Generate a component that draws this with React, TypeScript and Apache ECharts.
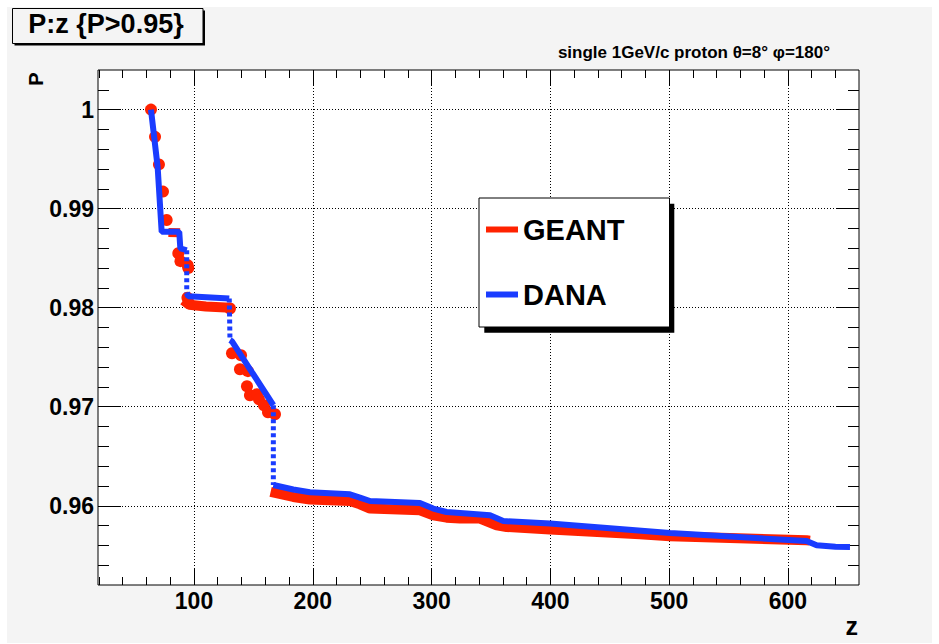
import React, { useEffect, useRef } from 'react';
import * as echarts from 'echarts';

// ---- axis ranges & tick labels ----
const X_MIN = 19.2;
const X_MAX = 659.8;
const Y_MIN = 0.952;
const Y_MAX = 1.004;
const X_MAJOR = [100, 200, 300, 400, 500, 600];
const Y_MAJOR = [0.96, 0.97, 0.98, 0.99, 1.0];

// ---- GEANT (red) ----
const geantBlobs: [number, number][] = [
  [63.8, 1.0], [67.2, 0.99725], [70.5, 0.99447], [73.9, 0.99172], [77.0, 0.98886],
  [86.8, 0.9855], [88.6, 0.9847], [94.6, 0.9843], [95.2, 0.984],
  [94.5, 0.981], [95.5, 0.9805], [130.3, 0.97992],
  [132.0, 0.9754], [139.6, 0.9752], [138.7, 0.97379], [145.4, 0.97359],
  [144.6, 0.97207], [147.1, 0.97116], [153.0, 0.97126], [154.7, 0.97076],
  [158.9, 0.97015], [162.3, 0.96944], [168.2, 0.96924],
];
const geantStep1: [number, number][] = [[78.5, 0.9876], [88.3, 0.98756]];
const geantStep2: [number, number][] = [[91.0, 0.98075], [96.0, 0.9803], [110.0, 0.98012], [131.0, 0.98]];
const geantTail: [number, number][] = [
  [164.5, 0.9614], [183.6, 0.96089], [197.6, 0.96063], [231.3, 0.96049], [239.7, 0.96015],
  [248.2, 0.95972], [290.2, 0.95955], [301.4, 0.95904], [312.6, 0.9588], [323.9, 0.95871],
  [340.7, 0.95871], [354.8, 0.95803], [363.2, 0.95786], [399.7, 0.9576], [475.4, 0.95712],
  [500.7, 0.95692], [615.7, 0.95652], [618.5, 0.95648],
];

// ---- DANA (blue) ----
const danaA: [number, number][] = [
  [63.8, 1.0], [69.4, 0.99422], [72.8, 0.98766], [87.6, 0.98766], [88.5, 0.986], [93.9, 0.9858],
];
const danaDrop1: [number, number][] = [[93.9, 0.9858], [93.9, 0.9815]];
const danaB: [number, number][] = [[93.9, 0.9815], [95.2, 0.98116], [129.7, 0.98093]];
const danaDrop2: [number, number][] = [[129.7, 0.98093], [130.3, 0.97672]];
const danaC: [number, number][] = [[130.3, 0.97672], [132.0, 0.9766], [166.8, 0.97015]];
const danaDrop3: [number, number][] = [[166.8, 0.97015], [166.8, 0.9621]];
const danaTail: [number, number][] = [
  [166.8, 0.9621], [183.6, 0.96164], [197.6, 0.96136], [231.3, 0.96116], [239.7, 0.96083],
  [248.2, 0.96048], [290.2, 0.96028], [301.4, 0.95972], [312.6, 0.95937], [323.9, 0.95928],
  [349.2, 0.95904], [360.4, 0.95846], [399.7, 0.9582], [500.7, 0.95725], [615.7, 0.95644],
  [624.1, 0.95601], [640.0, 0.95586], [652.2, 0.95584],
];

const RED = '#ff2200';
const BLUE = '#1a3cff';
const BG = '#f4f4f4';
const FONT = '"Liberation Sans", Arial, Helvetica, sans-serif';

function minorTicks(lo: number, hi: number, step: number, majors: number[]): number[] {
  const out: number[] = [];
  const n0 = Math.ceil(lo / step - 1e-9);
  const n1 = Math.floor(hi / step + 1e-9);
  for (let i = n0; i <= n1; i++) {
    const v = +(i * step).toFixed(6);
    if (!majors.some((m) => Math.abs(m - v) < 1e-9)) out.push(v);
  }
  return out;
}

const X_MINOR = minorTicks(X_MIN, X_MAX, 20, X_MAJOR);
const Y_MINOR = minorTicks(Y_MIN + 0.001, Y_MAX - 0.001, 0.002, Y_MAJOR);

function xAxisDef(position: 'bottom' | 'top', ticks: number[], len: number, labels: boolean, split: boolean) {
  return {
    type: 'value', gridIndex: 0, min: X_MIN, max: X_MAX, position,
    axisLine: { show: false },
    axisTick: { show: true, inside: true, length: len, customValues: ticks, lineStyle: { color: '#000', width: 1 } },
    axisLabel: labels
      ? { show: true, customValues: ticks, margin: 4, color: '#000', fontSize: 23, fontWeight: 'bold', fontFamily: FONT, formatter: (v: number) => String(v) }
      : { show: false },
    splitLine: split ? { show: true, lineStyle: { color: '#000', width: 1, type: [1, 2] } } : { show: false },
  };
}
function yAxisDef(position: 'left' | 'right', ticks: number[], len: number, labels: boolean, split: boolean) {
  return {
    type: 'value', gridIndex: 0, min: Y_MIN, max: Y_MAX, position,
    axisLine: { show: false },
    axisTick: { show: true, inside: true, length: len, customValues: ticks, lineStyle: { color: '#000', width: 1 } },
    axisLabel: labels
      ? { show: true, customValues: ticks, margin: 4, color: '#000', fontSize: 23, fontWeight: 'bold', fontFamily: FONT,
          formatter: (v: number) => (Math.abs(v - 1) < 1e-9 ? '1' : v.toFixed(2)) }
      : { show: false },
    splitLine: split ? { show: true, lineStyle: { color: '#000', width: 1, type: [1, 2] } } : { show: false },
  };
}

function lineSeries(name: string, data: [number, number][], color: string, width: number, dash?: number[]) {
  return {
    type: 'line', name, data, symbol: 'none', showSymbol: false, silent: true,
    itemStyle: { color, opacity: 1 },
    lineStyle: { color, width, opacity: 1, type: dash ? dash : 'solid', cap: 'butt' },
  };
}

export default function App() {
  const ref = useRef<HTMLDivElement>(null);
  useEffect(() => {
    if (!ref.current) return;
    const chart = echarts.init(ref.current, null, { renderer: 'svg' });
    chart.setOption({
      animation: false,
      backgroundColor: 'transparent',
      grid: { left: 98, top: 70, width: 761, height: 515, show: true, backgroundColor: '#fff', borderColor: '#000', borderWidth: 1, containLabel: false },
      xAxis: [
        xAxisDef('bottom', X_MAJOR, 16, true, true),
        xAxisDef('bottom', X_MINOR, 8, false, false),
        xAxisDef('top', X_MAJOR, 16, false, false),
        xAxisDef('top', X_MINOR, 8, false, false),
      ],
      yAxis: [
        yAxisDef('left', Y_MAJOR, 23, true, true),
        yAxisDef('left', Y_MINOR, 11, false, false),
        yAxisDef('right', Y_MAJOR, 23, false, false),
        yAxisDef('right', Y_MINOR, 11, false, false),
      ],
      legend: {
        orient: 'vertical', left: 479, top: 198, z: 20,
        padding: [17, 45, 18, 7], itemWidth: 32, itemHeight: 6, itemGap: 36,
        backgroundColor: '#fff', borderColor: '#000', borderWidth: 1,
        selectedMode: false,
        textStyle: { color: '#000', fontSize: 29, fontWeight: 'bold', fontFamily: FONT },
        data: [
          { name: 'GEANT', icon: 'rect', itemStyle: { color: RED, opacity: 1 } },
          { name: 'DANA', icon: 'rect', itemStyle: { color: BLUE, opacity: 1 } },
        ],
      },
      graphic: [
        { type: 'rect', z: 10, silent: true, shape: { x: 14.5, y: 10.5, width: 190.5, height: 35 }, style: { fill: '#000' } },
        { type: 'rect', z: 11, silent: true, shape: { x: 12.5, y: 8.5, width: 190.5, height: 35 }, style: { fill: BG, stroke: '#000', lineWidth: 1 } },
        { type: 'text', z: 12, silent: true, x: 106, y: 24, style: { text: 'P:z {P>0.95}', fill: '#000', fontSize: 27, fontWeight: 'bold', fontFamily: FONT, align: 'center', verticalAlign: 'middle', textAlign: 'center', textVerticalAlign: 'middle' } },
        { type: 'text', z: 12, silent: true, x: 830, y: 52.4, style: { text: 'single 1GeV/c proton \u03b8=8\u00b0 \u03c6=180\u00b0', fill: '#000', fontSize: 17, fontWeight: 'bold', fontFamily: FONT, align: 'right', verticalAlign: 'middle', textAlign: 'right', textVerticalAlign: 'middle' } },
        { type: 'text', z: 12, silent: true, x: 36, y: 79, rotation: Math.PI / 2, style: { text: 'P', fill: '#000', fontSize: 20, fontWeight: 'bold', fontFamily: FONT, align: 'center', verticalAlign: 'middle', textAlign: 'center', textVerticalAlign: 'middle' } },
        { type: 'text', z: 12, silent: true, x: 858, y: 626, style: { text: 'z', fill: '#000', fontSize: 25, fontWeight: 'bold', fontFamily: FONT, align: 'right', verticalAlign: 'middle', textAlign: 'right', textVerticalAlign: 'middle' } },
        { type: 'rect', z: 15, silent: true, shape: { x: 484.3, y: 203.8, width: 190, height: 129 }, style: { fill: '#000' } },
      ],
      series: [
        { type: 'scatter', name: 'GEANT', data: geantBlobs, symbol: 'circle', symbolSize: 12, silent: true, itemStyle: { color: RED, opacity: 1 } },
        lineSeries('GEANT', geantStep1, RED, 9),
        lineSeries('GEANT', geantStep2, RED, 10),
        lineSeries('GEANT', geantTail, RED, 10),
        lineSeries('DANA', danaA, BLUE, 6),
        lineSeries('DANA', danaDrop1, BLUE, 5, [4, 3]),
        lineSeries('DANA', danaB, BLUE, 6),
        lineSeries('DANA', danaDrop2, BLUE, 5, [4, 3]),
        lineSeries('DANA', danaC, BLUE, 6),
        lineSeries('DANA', danaDrop3, BLUE, 5, [4, 3]),
        lineSeries('DANA', danaTail, BLUE, 6),
      ],
    });
    return () => chart.dispose();
  }, []);
  return (
    <div style={{ position: 'absolute', left: 0, top: 0, width: 939, height: 644, background: '#fff' }}>
      <div style={{ position: 'absolute', left: 7, top: 7, width: 925, height: 636, background: BG }} />
      <div ref={ref} style={{ position: 'absolute', left: 0, top: 0, width: 939, height: 644 }} />
    </div>
  );
}
